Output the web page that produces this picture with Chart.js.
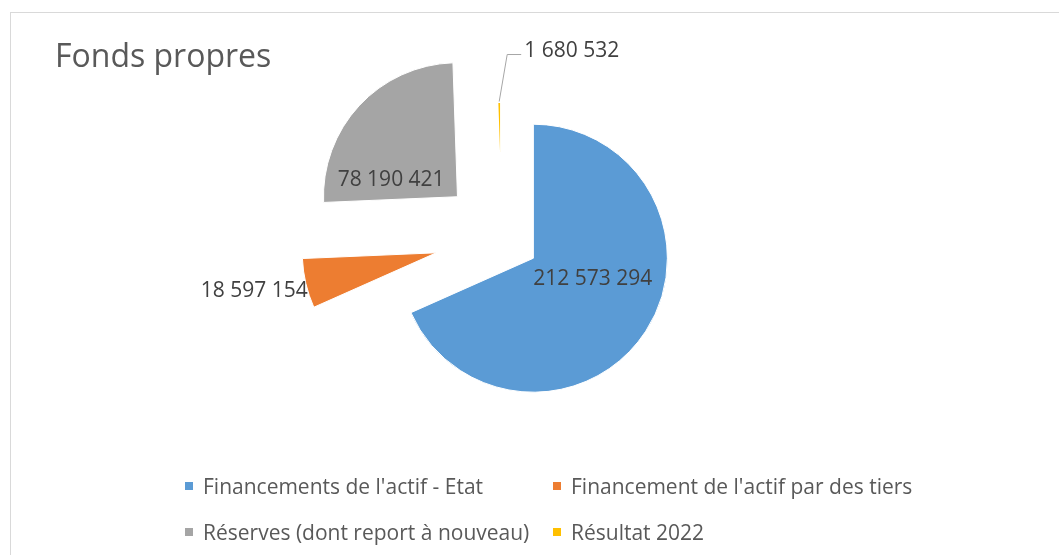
<!DOCTYPE html>
<html lang="fr">
<head>
<meta charset="utf-8">
<title>Fonds propres</title>
<script src="https://cdn.jsdelivr.net/npm/chart.js"></script>
<style>
    body { margin: 0; background: #fff; font-family: 'Open Sans', sans-serif; }
    #cadre { position: relative; width: 1059px; height: 555px; overflow: hidden; }
    #bord { position: absolute; left: 10px; top: 12px; width: 1200px; height: 700px; border: 1px solid #d9d9d9; }
    #titre { position: absolute; left: 55px; top: 39px; font-size: 32px; line-height: 1; color: #595959; }
    canvas { position: absolute; left: 0; top: 0; }
    .leg { position: absolute; display: flex; align-items: center; height: 24px; font-size: 21px; color: #595959; white-space: nowrap; }
    .leg span.carre { width: 8px; height: 8px; margin-right: 10px; }
</style>
</head>
<body>
<div id="cadre">
    <div id="bord"></div>
    <canvas id="chartFonds" width="1059" height="555"></canvas>
    <div id="titre">Fonds propres</div>
    <div id="legende"></div>
</div>
<script>
const etiquettes = [
    "Financements de l'actif - Etat",
    "Financement de l'actif par des tiers",
    "Réserves (dont report à nouveau)",
    "Résultat 2022"
];
const valeurs = [212573294, 18597154, 78190421, 1680532];
const couleurs = ['#5b9bd5', '#ed7d31', '#a5a5a5', '#ffc000'];

// décalage de chaque part (éclatement), en px
const eclatement = [38, 67, 60, 2];

// placement des étiquettes : t = fraction de l'angle, r = fraction du rayon
const placeEtiquettes = [
    { t: 0.444, r: 0.47, align: 'center' },
    { t: 0.35, r: 1.0, align: 'right' },
    { t: 0.18, r: 0.51, align: 'center' },
    { t: 0.5, r: 1.0, align: 'left', ligne: [8, -47, 14] }
];

function formater(n) {
    return String(n).replace(/\B(?=(\d{3})+(?!\d))/g, ' ');
}

const pluginEclate = {
    id: 'eclate',
    beforeDatasetDraw(chart, args) {
        const ctx = chart.ctx;
        args.meta.data.forEach((arc, i) => {
            const mid = (arc.startAngle + arc.endAngle) / 2;
            ctx.save();
            ctx.translate(Math.cos(mid) * eclatement[i], Math.sin(mid) * eclatement[i]);
            arc.draw(ctx);
            ctx.restore();
        });
        return false;
    }
};

const pluginEtiquettes = {
    id: 'etiquettes',
    afterDatasetsDraw(chart) {
        const ctx = chart.ctx;
        const meta = chart.getDatasetMeta(0);
        ctx.save();
        ctx.font = '21px "Open Sans"';
        ctx.fillStyle = '#404040';
        ctx.textBaseline = 'middle';
        meta.data.forEach((arc, i) => {
            const mid = (arc.startAngle + arc.endAngle) / 2;
            const cx = arc.x + Math.cos(mid) * eclatement[i];
            const cy = arc.y + Math.sin(mid) * eclatement[i];
            const p = placeEtiquettes[i];
            const a = arc.startAngle + (arc.endAngle - arc.startAngle) * p.t;
            let x = cx + Math.cos(a) * arc.outerRadius * p.r;
            let y = cy + Math.sin(a) * arc.outerRadius * p.r;
            if (p.ligne) {
                const [dx, dy, lg] = p.ligne;
                ctx.strokeStyle = '#a6a6a6';
                ctx.lineWidth = 1;
                ctx.beginPath();
                ctx.moveTo(x, y);
                ctx.lineTo(x + dx, y + dy);
                ctx.lineTo(x + dx + lg, y + dy);
                ctx.stroke();
                x = x + dx + lg + 3;
                y = y + dy - 4;
            }
            ctx.textAlign = p.align;
            ctx.fillText(formater(valeurs[i]), x, y);
        });
        ctx.restore();
    }
};

function construireLegende() {
    const cont = document.getElementById('legende');
    const colX = [185, 553];
    const rowY = [474, 520];
    etiquettes.forEach((lib, i) => {
        const d = document.createElement('div');
        d.className = 'leg';
        d.style.left = colX[i % 2] + 'px';
        d.style.top = rowY[Math.floor(i / 2)] + 'px';
        d.innerHTML = `<span class="carre" style="background:${couleurs[i]}"></span><span>${lib}</span>`;
        cont.appendChild(d);
    });
}

new Chart(document.getElementById('chartFonds'), {
    type: 'pie',
    data: {
        labels: etiquettes,
        datasets: [{
            data: valeurs,
            backgroundColor: couleurs,
            borderColor: '#fff',
            borderWidth: [1, 1, 1, 2.8],
            radius: 134
        }]
    },
    options: {
        responsive: false,
        animation: false,
        layout: { padding: { left: 0, right: 56, top: 0, bottom: 80 } },
        plugins: {
            legend: { display: false },
            tooltip: { enabled: false }
        }
    },
    plugins: [pluginEclate, pluginEtiquettes]
});

construireLegende();
</script>
</body>
</html>
